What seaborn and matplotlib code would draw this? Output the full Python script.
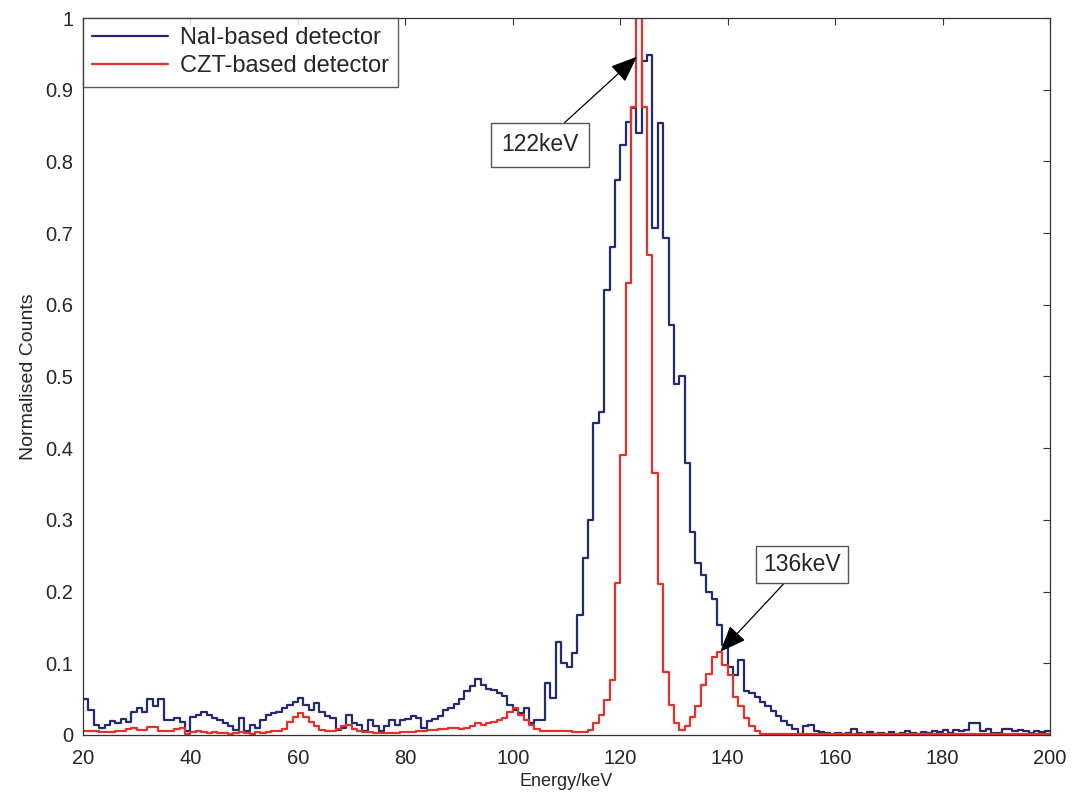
import numpy as np
import pandas as pd
import matplotlib
matplotlib.use("Agg")
import matplotlib.pyplot as plt
import seaborn as sns

# bin left edges, 1 keV wide, 20..199 keV
energy = list(range(20, 200))

nai_counts = [
    0.050, 0.035, 0.014, 0.010, 0.014, 0.020, 0.016, 0.022, 0.018, 0.032,  # 20
    0.037, 0.032, 0.050, 0.040, 0.050, 0.021, 0.021, 0.023, 0.018, 0.005,  # 30
    0.025, 0.028, 0.032, 0.028, 0.023, 0.021, 0.017, 0.012, 0.007, 0.023,  # 40
    0.006, 0.014, 0.010, 0.021, 0.028, 0.031, 0.032, 0.037, 0.042, 0.046,  # 50
    0.051, 0.042, 0.035, 0.044, 0.032, 0.026, 0.024, 0.007, 0.010, 0.028,  # 60
    0.017, 0.014, 0.006, 0.021, 0.012, 0.006, 0.012, 0.021, 0.014, 0.021,  # 70
    0.022, 0.026, 0.023, 0.010, 0.020, 0.022, 0.026, 0.035, 0.038, 0.043,  # 80
    0.050, 0.061, 0.068, 0.078, 0.070, 0.064, 0.063, 0.059, 0.054, 0.042,  # 90
    0.035, 0.030, 0.037, 0.016, 0.021, 0.021, 0.072, 0.052, 0.130, 0.100,  # 100
    0.095, 0.114, 0.167, 0.247, 0.300, 0.435, 0.450, 0.620, 0.680, 0.774,  # 110
    0.823, 0.855, 0.874, 0.840, 0.940, 0.948, 0.707, 0.853, 0.693, 0.572,  # 120
    0.490, 0.500, 0.380, 0.283, 0.240, 0.223, 0.200, 0.190, 0.153, 0.125,  # 130
    0.095, 0.084, 0.105, 0.062, 0.058, 0.053, 0.046, 0.040, 0.034, 0.027,  # 140
    0.020, 0.014, 0.009, 0.002, 0.013, 0.014, 0.005, 0.004, 0.003, 0.002,  # 150
    0.003, 0.002, 0.003, 0.008, 0.003, 0.002, 0.004, 0.002, 0.003, 0.002,  # 160
    0.004, 0.002, 0.003, 0.005, 0.003, 0.002, 0.004, 0.003, 0.005, 0.004,  # 170
    0.007, 0.003, 0.007, 0.005, 0.007, 0.017, 0.017, 0.005, 0.009, 0.003,  # 180
    0.003, 0.008, 0.008, 0.005, 0.007, 0.006, 0.003, 0.005, 0.004, 0.006,  # 190
]

czt_counts = [
    0.006, 0.006, 0.006, 0.004, 0.004, 0.004, 0.006, 0.006, 0.008, 0.010,  # 20
    0.007, 0.007, 0.011, 0.011, 0.006, 0.005, 0.005, 0.009, 0.010, 0.002,  # 30
    0.004, 0.005, 0.004, 0.003, 0.004, 0.003, 0.003, 0.002, 0.003, 0.004,  # 40
    0.003, 0.002, 0.004, 0.003, 0.004, 0.005, 0.006, 0.009, 0.018, 0.025,  # 50
    0.030, 0.025, 0.018, 0.012, 0.007, 0.006, 0.006, 0.008, 0.012, 0.014,  # 60
    0.009, 0.006, 0.004, 0.004, 0.003, 0.003, 0.003, 0.003, 0.003, 0.004,  # 70
    0.004, 0.004, 0.006, 0.006, 0.007, 0.007, 0.009, 0.009, 0.010, 0.010,  # 80
    0.009, 0.010, 0.012, 0.016, 0.014, 0.017, 0.018, 0.021, 0.024, 0.032,  # 90
    0.037, 0.028, 0.021, 0.014, 0.009, 0.006, 0.006, 0.006, 0.005, 0.005,  # 100
    0.005, 0.004, 0.004, 0.004, 0.007, 0.016, 0.028, 0.049, 0.077, 0.212,  # 110
    0.390, 0.630, 0.876, 1.000, 0.876, 0.670, 0.365, 0.210, 0.088, 0.042,  # 120
    0.016, 0.007, 0.012, 0.025, 0.040, 0.070, 0.085, 0.109, 0.116, 0.098,  # 130
    0.084, 0.053, 0.040, 0.023, 0.012, 0.005, 0.002, 0.002, 0.002, 0.002,  # 140
    0.002, 0.002, 0.002, 0.002, 0.002, 0.002, 0.002, 0.002, 0.002, 0.002,  # 150
    0.002, 0.002, 0.002, 0.002, 0.002, 0.002, 0.002, 0.002, 0.002, 0.002,  # 160
    0.002, 0.002, 0.002, 0.002, 0.002, 0.002, 0.002, 0.002, 0.002, 0.002,  # 170
    0.002, 0.002, 0.002, 0.002, 0.002, 0.002, 0.002, 0.002, 0.002, 0.002,  # 180
    0.002, 0.002, 0.002, 0.002, 0.002, 0.002, 0.002, 0.002, 0.002, 0.002,  # 190
]

x_ticks = list(range(20, 201, 20))
y_ticks = [0, 0.1, 0.2, 0.3, 0.4, 0.5, 0.6, 0.7, 0.8, 0.9, 1]
y_tick_labels = ["0", "0.1", "0.2", "0.3", "0.4", "0.5", "0.6", "0.7", "0.8", "0.9", "1"]

NAI_COLOR = "#242a6b"
CZT_COLOR = "#e5302c"

sns.set_style("white")
plt.rcParams["font.family"] = ["Liberation Sans", "DejaVu Sans"]
plt.rcParams["xtick.direction"] = "in"
plt.rcParams["ytick.direction"] = "in"

# close the last bin at 200 keV so steps-post draws it
edges = energy + [200]
df = pd.DataFrame({
    "energy": edges + edges,
    "counts": nai_counts + [nai_counts[-1]] + czt_counts + [czt_counts[-1]],
    "detector": ["NaI-based detector"] * len(edges) + ["CZT-based detector"] * len(edges),
})

fig = plt.figure(figsize=(10.74, 8), dpi=100)
ax = fig.add_axes([0.0773, 0.0813, 0.9004, 0.8962])

sns.lineplot(data=df, x="energy", y="counts", hue="detector",
             palette={"NaI-based detector": NAI_COLOR, "CZT-based detector": CZT_COLOR},
             drawstyle="steps-post", linewidth=1.6, estimator=None, sort=True, ax=ax)

ax.set_xlim(20, 200)
ax.set_ylim(0, 1)
ax.set_xticks(x_ticks)
ax.set_yticks(y_ticks)
ax.set_yticklabels(y_tick_labels)
ax.tick_params(axis="both", labelsize=14.5, length=5, width=0.8, color="#333333",
               top=True, right=True, pad=7)
ax.tick_params(axis="x", pad=10)
ax.set_xlabel("Energy/keV", fontsize=13, labelpad=4)
ax.set_ylabel("Normalised Counts", fontsize=14, labelpad=6)
for sp in ax.spines.values():
    sp.set_visible(True)
    sp.set_color("#333333")
    sp.set_linewidth(0.9)

leg = ax.legend(loc="upper left", fontsize=17, frameon=True, fancybox=False,
                edgecolor="#333333", borderaxespad=0, handlelength=3.2,
                borderpad=0.4, labelspacing=0.25, handletextpad=0.5)
leg.get_frame().set_linewidth(1.0)
for line in leg.get_lines():
    line.set_linewidth(1.6)

arrow = dict(arrowstyle="-|>,head_length=1.0,head_width=0.4", color="black",
             lw=0.9, shrinkA=0, shrinkB=0)
ax.annotate("122keV", xy=(123.1, 0.946), xytext=(105.1, 0.823),
            fontsize=16.5, ha="center", va="center",
            bbox=dict(boxstyle="square,pad=0.45", fc="white", ec="#555555", lw=1),
            arrowprops=arrow)
ax.annotate("136keV", xy=(138.6, 0.116), xytext=(153.8, 0.238),
            fontsize=16.5, ha="center", va="center",
            bbox=dict(boxstyle="square,pad=0.3", fc="white", ec="#555555", lw=1),
            arrowprops=arrow)

fig.savefig("out.png", dpi=100)
